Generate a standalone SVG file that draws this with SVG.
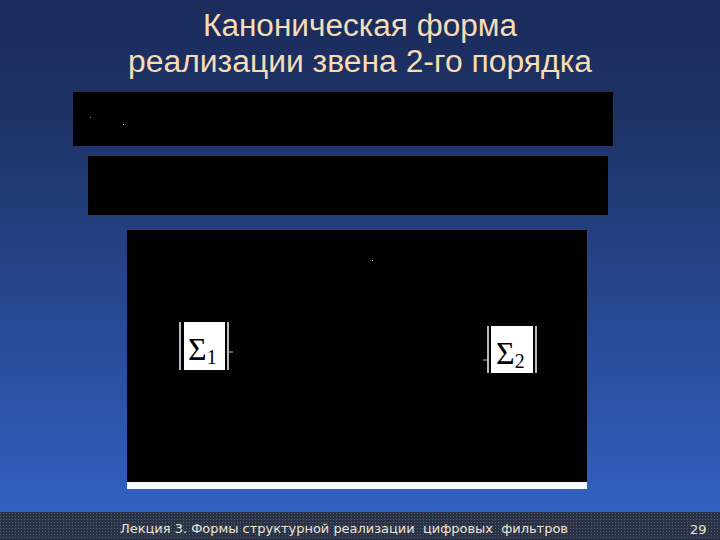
<svg xmlns="http://www.w3.org/2000/svg" width="720" height="540" viewBox="0 0 720 540">
<defs>
<linearGradient id="bg" x1="0" y1="0" x2="0" y2="1">
<stop offset="0" stop-color="#1a2b5b"/>
<stop offset="0.2" stop-color="#1d3264"/>
<stop offset="0.55" stop-color="#27468e"/>
<stop offset="1" stop-color="#3264c8"/>
</linearGradient>
<pattern id="dots" width="3" height="3" patternUnits="userSpaceOnUse">
<rect width="3" height="3" fill="#2a3246"/>
<rect x="0" y="0" width="1" height="1" fill="#56607a"/>
</pattern>
<style>
.title{font-family:"Liberation Sans",Arial,sans-serif;font-size:31px;fill:#f6dcb6;text-anchor:middle}
.foot{font-family:"DejaVu Sans",Verdana,sans-serif;font-size:13px;fill:#ece4d2;white-space:pre}
.blk{fill:#000}
.sbox{fill:#fff}
.edge{fill:#bbb}
.sig{font-family:"Liberation Serif","Times New Roman",serif;fill:#000}
</style>
</defs>
<rect width="720" height="540" fill="url(#bg)"/>
<g id="title">
<text class="title" x="360" y="36" textLength="314" lengthAdjust="spacingAndGlyphs">Каноническая форма</text>
<text class="title" x="360" y="72" textLength="464" lengthAdjust="spacingAndGlyphs">реализации звена 2-го порядка</text>
</g>
<g id="box1">
<rect class="blk" x="73" y="92" width="540" height="54"/>
<rect x="90" y="117" width="1" height="1" fill="#888"/>
<rect x="123" y="124" width="1" height="1" fill="#ddd"/>
</g>
<g id="box2">
<rect class="blk" x="88" y="156" width="520" height="59"/>
</g>
<g id="box3">
<rect class="blk" x="127" y="230" width="460" height="252"/>
<rect x="127" y="482" width="460" height="7" fill="#f4f8ff"/>
<rect x="372" y="260" width="1" height="1" fill="#ddd"/>
</g>
<g id="sum1">
<rect class="edge" x="179" y="322" width="2" height="48"/>
<rect class="sbox" x="184" y="322" width="41" height="48"/>
<rect class="edge" x="227" y="322" width="2" height="48"/>
<text class="sig" x="188" y="360" font-size="32">Σ<tspan font-size="20" dy="4">1</tspan></text>
</g>
<g id="sum2">
<rect class="edge" x="487" y="326" width="2" height="47"/>
<rect class="sbox" x="491" y="326" width="42" height="47"/>
<rect class="edge" x="535" y="326" width="2" height="47"/>
<text class="sig" x="496" y="364" font-size="32">Σ<tspan font-size="20" dy="4">2</tspan></text>
</g>
<g id="connectors">
<line x1="229" y1="352" x2="233" y2="352" stroke="#bbb" stroke-width="1"/>
<line x1="483" y1="360" x2="487" y2="360" stroke="#bbb" stroke-width="1"/>
</g>
<g id="footer">
<rect x="0" y="512" width="720" height="28" fill="url(#dots)"/>
<text class="foot" x="120" y="533" textLength="448" lengthAdjust="spacing">Лекция 3. Формы структурной реализации  цифровых  фильтров</text>
<text class="foot" x="690" y="534" font-size="16">29</text>
</g>
</svg>
